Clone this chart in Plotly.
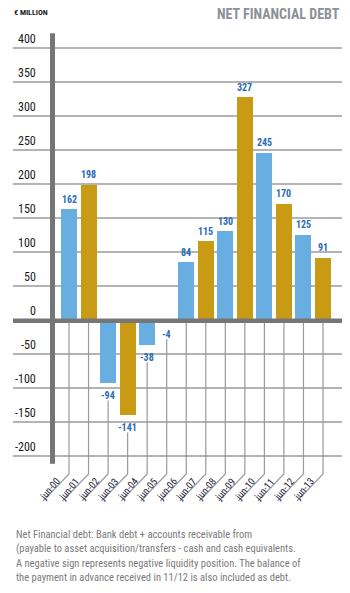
import plotly.graph_objects as go

categories = ["jun-00", "jun-01", "jun-02", "jun-03", "jun-04", "jun-05", "jun-06",
              "jun-07", "jun-08", "jun-09", "jun-10", "jun-11", "jun-12", "jun-13"]
values = [162, 198, -94, -141, -38, -4, 84, 115, 130, 327, 245, 170, 125, 91]
tick_values = [400, 350, 300, 250, 200, 150, 100, 50, 0, -50, -100, -150, -200]
tick_labels = [str(v) for v in tick_values]

title_text = "NET FINANCIAL DEBT"
unit_text = "€ MILLION"
footer_lines = [
    "Net Financial debt: Bank debt + accounts receivable from",
    "(payable to asset acquisition/transfers - cash and cash equivalents.",
    "A negative sign represents negative liquidity position. The balance of",
    "the payment in advance received in 11/12 is also included as debt.",
]

BLUE = "#68aee0"
GOLD = "#c99a14"
LABEL_BLUE = "#2a6cb7"
AXIS_GRAY = "#767676"
GRID_GRAY = "#b4b4b4"
FONT = "Liberation Sans Narrow, Roboto Condensed, DejaVu Sans Condensed, Arial, sans-serif"

W, H = 350, 593
ML, MR, MT, MB = 13, 8, 30, 70
plot_h = H - MT - MB
px_per_unit = 0.68
zero_px = 319.5
y_top = (zero_px - MT) / px_per_unit
y_bot = -(H - MB - zero_px) / px_per_unit

first_px, spacing = 69.0, 19.54
x_left = (ML - first_px) / spacing
x_right = (W - MR - first_px) / spacing

xs = list(range(len(categories)))
colors = [BLUE if i % 2 == 0 else GOLD for i in xs]

fig = go.Figure()

# leader lines from zero line / value label down to the rotated category labels
lx, ly = [], []
vert_end = -(474 - zero_px) / px_per_unit
diag_end = -(501 - zero_px) / px_per_unit
diag_dx = -26 / spacing
for i, v in zip(xs, values):
    start = 0 if v >= 0 else v - 25
    lx += [i, i, i + diag_dx, None]
    ly += [start, vert_end, diag_end, None]
fig.add_trace(go.Scatter(x=lx, y=ly, mode="lines",
                         line=dict(color="#9a9a9a", width=1.2),
                         hoverinfo="skip", showlegend=False))

fig.add_trace(go.Bar(x=xs, y=values, marker=dict(color=colors, line=dict(width=0)),
                     width=0.82, showlegend=False, hoverinfo="skip"))

shapes = [
    # thick zero line
    dict(type="line", xref="paper", yref="y", x0=0, x1=1, y0=-2, y1=-2,
         line=dict(color=AXIS_GRAY, width=4.5), layer="above"),
    # thick vertical axis
    dict(type="line", xref="x", yref="y", x0=(52.5 - first_px) / spacing,
         x1=(52.5 - first_px) / spacing, y0=421, y1=-212,
         line=dict(color=AXIS_GRAY, width=5), layer="above"),
]

annotations = []
for tv, tl in zip(tick_values, tick_labels):
    annotations.append(dict(xref="paper", yref="y", x=(38 - ML) / (W - ML - MR), y=tv,
                            text=tl, showarrow=False, xanchor="right", yanchor="middle",
                            yshift=9, font=dict(family=FONT, size=12, color="#1a1a1a")))
for i, v in zip(xs, values):
    annotations.append(dict(xref="x", yref="y", x=i, y=v, text="<b>%d</b>" % v,
                            showarrow=False, xanchor="center", yanchor="middle",
                            yshift=10 if v >= 0 else -12,
                            font=dict(family=FONT, size=10, color=LABEL_BLUE)))
lab_y = -(489 - zero_px) / px_per_unit
for i, c in zip(xs, categories):
    annotations.append(dict(xref="x", yref="y", x=i - 20 / spacing, y=lab_y, text=c,
                            showarrow=False, textangle=-50, xanchor="center",
                            yanchor="middle",
                            font=dict(family=FONT, size=10, color="#1c2440")))

def paper_y(p):
    return (H - MB - p) / plot_h

annotations.append(dict(xref="paper", yref="paper", x=1, y=paper_y(14), text="<b>%s</b>" % title_text,
                        showarrow=False, xanchor="right", yanchor="middle",
                        font=dict(family=FONT, size=14, color="#8c9098")))
annotations.append(dict(xref="paper", yref="paper", x=(12 - ML) / (W - ML - MR), y=paper_y(13),
                        text="<b>%s</b>" % unit_text, showarrow=False, xanchor="left",
                        yanchor="middle", font=dict(family=FONT, size=8, color="#1a1a1a")))
for k, line in enumerate(footer_lines):
    annotations.append(dict(xref="paper", yref="paper", x=(14 - ML) / (W - ML - MR),
                            y=paper_y(534 + 14.6 * k), text=line, showarrow=False,
                            xanchor="left", yanchor="middle",
                            font=dict(family=FONT, size=10.5, color="#7a7a7a")))

fig.update_layout(
    width=W, height=H,
    margin=dict(l=ML, r=MR, t=MT, b=MB, pad=0),
    paper_bgcolor="white", plot_bgcolor="white",
    shapes=shapes, annotations=annotations,
    xaxis=dict(range=[x_left, x_right], showgrid=False, zeroline=False,
               showticklabels=False, ticks="", showline=False, fixedrange=True),
    yaxis=dict(range=[y_bot, y_top], tickvals=tick_values, showticklabels=False,
               showgrid=True, gridcolor=GRID_GRAY, gridwidth=1.5, zeroline=False,
               ticks="", showline=False, fixedrange=True),
    bargap=0,
)

fig.write_html("out.html", config={"displayModeBar": False})
